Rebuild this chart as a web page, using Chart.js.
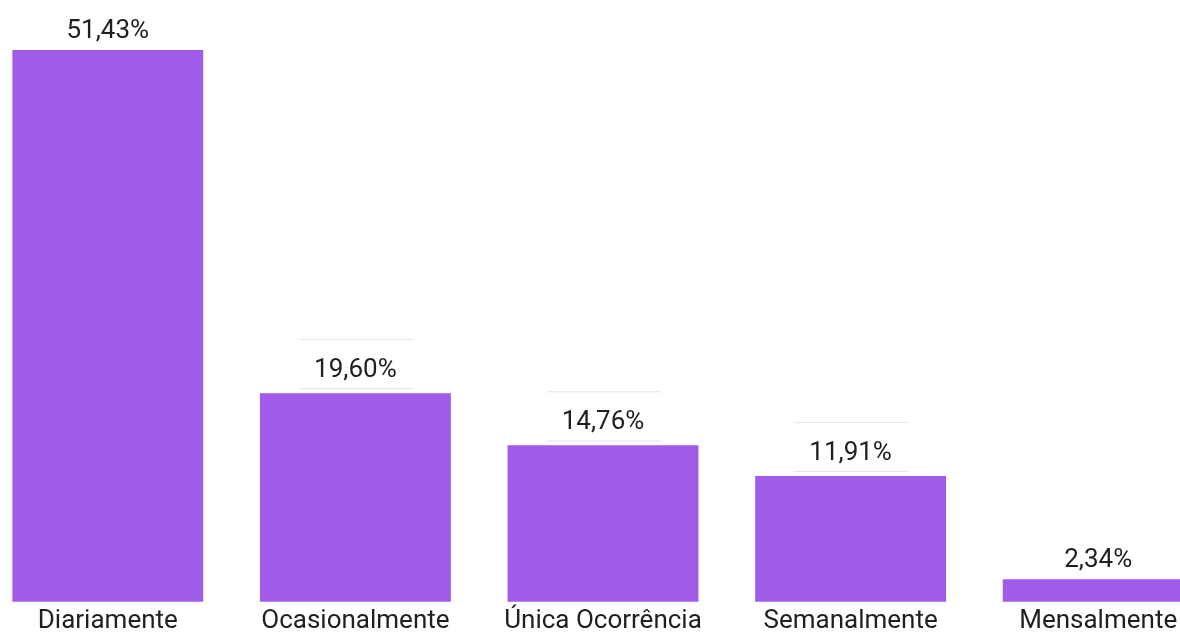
<!DOCTYPE html>
<html>
<head>
<meta charset="utf-8">
<script src="https://cdn.jsdelivr.net/npm/chart.js@4"></script>
<style>
  html, body { margin: 0; padding: 0; background: #fff; overflow: hidden; }
  #wrap { position: absolute; left: -16px; top: 0; width: 1238px; height: 641px; }
</style>
</head>
<body>
<div id="wrap"><canvas id="freqChart"></canvas></div>
<script>
const categories = ["Diariamente", "Ocasionalmente", "Única Ocorrência", "Semanalmente", "Mensalmente"];
const percentages = [51.43, 19.60, 14.76, 11.91, 2.34];
// bars whose value label sits in a thin ruled box
const boxedLabels = [false, true, true, true, false];

const barColor = "#a05ce9";
const textColor = "#1f1f1f";
const fontFamily = "Roboto, 'Noto Sans', sans-serif";

function fmtPct(v) {
  return v.toFixed(2).replace(".", ",") + "%";
}

/* Value labels above each bar */
const valueLabels = {
  id: "valueLabels",
  afterDatasetsDraw(chart) {
    const ctx = chart.ctx;
    const meta = chart.getDatasetMeta(0);
    ctx.save();
    ctx.font = "26px " + fontFamily;
    ctx.fillStyle = textColor;
    ctx.textAlign = "center";
    ctx.textBaseline = "middle";
    meta.data.forEach((bar, i) => {
      const c = bar.y - (boxedLabels[i] ? 23 : 19);
      if (boxedLabels[i]) {
        ctx.strokeStyle = "#e3e3e8";
        ctx.lineWidth = 1;
        ctx.beginPath();
        ctx.moveTo(bar.x - 56, c - 31 + 0.5);
        ctx.lineTo(bar.x + 58, c - 31 + 0.5);
        ctx.moveTo(bar.x - 56, c + 18 + 0.5);
        ctx.lineTo(bar.x + 58, c + 18 + 0.5);
        ctx.stroke();
      }
      ctx.fillText(fmtPct(percentages[i]), bar.x, c);
    });
    ctx.restore();
  }
};

const ctx = document.getElementById("freqChart");
new Chart(ctx, {
  type: "bar",
  data: {
    labels: categories,
    datasets: [{
      data: percentages,
      backgroundColor: barColor,
      borderWidth: 0,
      categoryPercentage: 1,
      barPercentage: 0.771
    }]
  },
  options: {
    responsive: true,
    maintainAspectRatio: false,
    animation: false,
    layout: { padding: 0 },
    plugins: {
      legend: { display: false },
      tooltip: { enabled: false }
    },
    scales: {
      x: {
        grid: { display: false, drawTicks: false },
        border: { display: false },
        ticks: {
          color: textColor,
          font: { family: fontFamily, size: 26 },
          padding: 4,
          maxRotation: 0,
          autoSkip: false
        }
      },
      y: {
        display: false,
        min: 0.24,
        max: 56.08
      }
    }
  },
  plugins: [valueLabels]
});
</script>
</body>
</html>
